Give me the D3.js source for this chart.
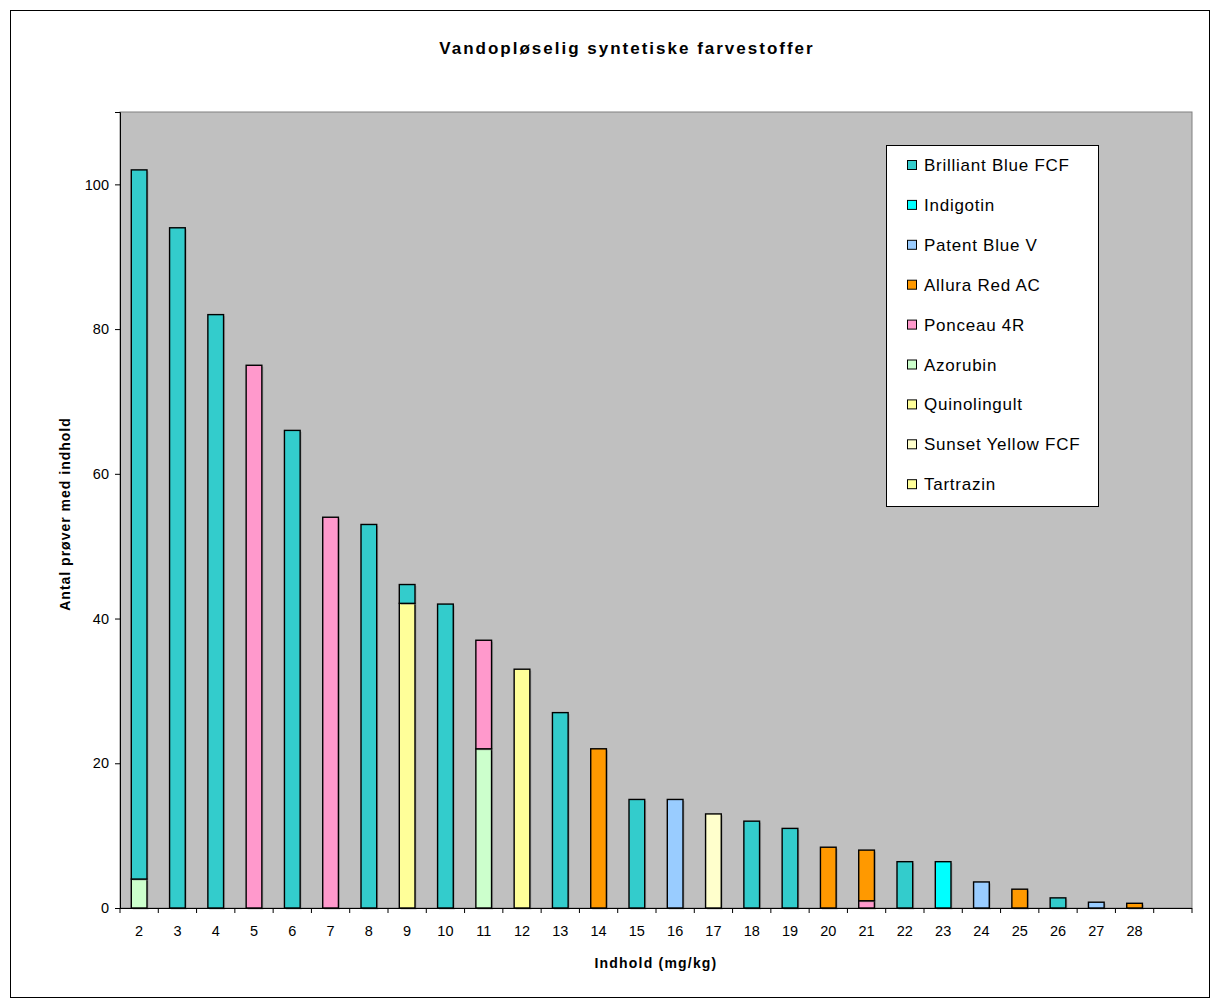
<!DOCTYPE html>
<html>
<head>
<meta charset="utf-8">
<script src="https://cdn.jsdelivr.net/npm/d3@7/dist/d3.min.js"></script>
<style>
  html, body { margin: 0; padding: 0; background: #fff; }
  svg { display: block; font-family: "Liberation Sans", Arial, sans-serif; }
</style>
</head>
<body>
<svg id="chart" width="1229" height="1007"></svg>
<script>
// ---- Data ----
const categories = ["2","3","4","5","6","7","8","9","10","11","12","13","14","15","16","17","18","19","20","21","22","23","24","25","26","27","28",""];
const seriesNames = ["Brilliant Blue FCF","Indigotin","Patent Blue V","Allura Red AC","Ponceau 4R","Azorubin","Quinolingult","Sunset Yellow FCF","Tartrazin"];
const seriesColors = ["#33CCCC","#00FFFF","#99CCFF","#FF9900","#FF99CC","#CCFFCC","#FFFF99","#FFFFCC","#FFFF99"];
//                           2   3   4   5   6   7   8   9    10  11  12  13  14  15  16  17  18  19  20   21  22   23   24   25   26   27   28   -
const brilliantBlue   = [98, 94, 82,  0, 66,  0, 53, 2.6, 42,  0,  0, 27,  0, 15,  0,  0, 12, 11,  0,   0, 6.4,  0,   0,   0, 1.4,  0,   0,   0];
const indigotin       = [ 0,  0,  0,  0,  0,  0,  0, 0,    0,  0,  0,  0,  0,  0,  0,  0,  0,  0,  0,   0, 0,  6.4,   0,   0,   0,   0,   0,   0];
const patentBlue      = [ 0,  0,  0,  0,  0,  0,  0, 0,    0,  0,  0,  0,  0,  0, 15,  0,  0,  0,  0,   0, 0,    0, 3.6,   0,   0, 0.8,   0,   0];
const alluraRed       = [ 0,  0,  0,  0,  0,  0,  0, 0,    0,  0,  0,  0, 22,  0,  0,  0,  0,  0, 8.4,  7, 0,    0,   0, 2.6,   0,   0, 0.65, 0];
const ponceau         = [ 0,  0,  0, 75,  0, 54,  0, 0,    0, 15,  0,  0,  0,  0,  0,  0,  0,  0,  0,   1, 0,    0,   0,   0,   0,   0,   0,   0];
const azorubin        = [ 4,  0,  0,  0,  0,  0,  0, 0,    0, 22,  0,  0,  0,  0,  0,  0,  0,  0,  0,   0, 0,    0,   0,   0,   0,   0,   0,   0];
const quinolingult    = [ 0,  0,  0,  0,  0,  0,  0, 42.1, 0,  0,  0,  0,  0,  0,  0,  0,  0,  0,  0,   0, 0,    0,   0,   0,   0,   0,   0,   0];
const sunsetYellow    = [ 0,  0,  0,  0,  0,  0,  0, 0,    0,  0,  0,  0,  0,  0,  0, 13,  0,  0,  0,   0, 0,    0,   0,   0,   0,   0,   0,   0];
const tartrazin       = [ 0,  0,  0,  0,  0,  0,  0, 0,    0,  0, 33,  0,  0,  0,  0,  0,  0,  0,  0,   0, 0,    0,   0,   0,   0,   0,   0,   0];
const yTicks = [0, 20, 40, 60, 80, 100];
const yMax = 110;

const seriesValues = [brilliantBlue, indigotin, patentBlue, alluraRed, ponceau, azorubin, quinolingult, sunsetYellow, tartrazin];

// ---- Layout ----
const svg = d3.select("#chart");
const plot = { left: 120, right: 1192, top: 112, bottom: 908 };

// outer border
svg.append("rect").attr("x", 10.5).attr("y", 10.5).attr("width", 1199).attr("height", 987)
  .attr("fill", "#fff").attr("stroke", "#000").attr("stroke-width", 1);

const x = d3.scaleBand().domain(categories).range([plot.left, plot.right]).padding(0);
const y = d3.scaleLinear().domain([0, yMax]).range([plot.bottom, plot.top]);

// plot area
svg.append("rect").attr("x", plot.left).attr("y", plot.top)
  .attr("width", plot.right - plot.left).attr("height", plot.bottom - plot.top)
  .attr("fill", "#C0C0C0").attr("stroke", "#808080").attr("stroke-width", 1);

// stacking: bottom-to-top is reverse of legend order
const table = categories.map((c, i) => {
  const row = { cat: c };
  seriesNames.forEach((s, k) => row[s] = seriesValues[k][i]);
  return row;
});
const stackKeys = seriesNames.slice().reverse();
const stacked = d3.stack().keys(stackKeys)(table);

const barW = x.bandwidth() * 0.41;
const g = svg.append("g");
stacked.forEach(layer => {
  const color = seriesColors[seriesNames.indexOf(layer.key)];
  layer.forEach((d, i) => {
    if (d[1] - d[0] <= 0) return;
    const cx = x(categories[i]) + x.bandwidth() / 2;
    // shadow
    g.append("rect")
      .attr("x", cx - barW / 2 + 1.5).attr("y", y(d[1]) + 1.5)
      .attr("width", barW).attr("height", y(d[0]) - y(d[1]))
      .attr("fill", "#7a7a7a").attr("opacity", 0.45);
    g.append("rect")
      .attr("x", cx - barW / 2).attr("y", y(d[1]))
      .attr("width", barW).attr("height", y(d[0]) - y(d[1]))
      .attr("fill", color).attr("stroke", "#000").attr("stroke-width", 1.4);
  });
});

// Y axis
const yAxis = d3.axisLeft(y).tickValues(yTicks).tickSize(5).tickPadding(6).tickFormat(d3.format("d"));
const ya = svg.append("g").attr("transform", `translate(${plot.left},0)`).call(yAxis);
ya.select(".domain").attr("stroke", "#000");
ya.selectAll(".tick line").attr("stroke", "#000");
ya.selectAll("text").attr("font-size", 14.5).attr("fill", "#000")
  .attr("font-family", "'Liberation Sans', Arial, sans-serif");

// X axis baseline
svg.append("line").attr("x1", plot.left).attr("x2", plot.right)
  .attr("y1", plot.bottom + 0.5).attr("y2", plot.bottom + 0.5).attr("stroke", "#000").attr("stroke-width", 1.2);
// ticks at band boundaries
const boundaries = categories.map(c => x(c)).concat([plot.right]);
svg.append("g").selectAll("line").data(boundaries).join("line")
  .attr("x1", d => d).attr("x2", d => d)
  .attr("y1", plot.bottom).attr("y2", plot.bottom + 5)
  .attr("stroke", "#000");
svg.append("g").selectAll("text").data(categories).join("text")
  .attr("x", d => x(d) + x.bandwidth() / 2)
  .attr("y", 936)
  .attr("text-anchor", "middle")
  .attr("font-size", 14.5)
  .text(d => d);

// Titles
svg.append("text").attr("x", 627).attr("y", 54).attr("text-anchor", "middle")
  .attr("font-size", 17).attr("font-weight", "bold").attr("letter-spacing", 2)
  .text("Vandopløselig syntetiske farvestoffer");
svg.append("text").attr("x", 656).attr("y", 968).attr("text-anchor", "middle")
  .attr("font-size", 14).attr("font-weight", "bold").attr("letter-spacing", 1.2)
  .text("Indhold (mg/kg)");
svg.append("text").attr("transform", "translate(70,514) rotate(-90)").attr("text-anchor", "middle")
  .attr("font-size", 14).attr("font-weight", "bold").attr("letter-spacing", 1)
  .text("Antal prøver med indhold");

// Legend
const lg = svg.append("g");
lg.append("rect").attr("x", 886.5).attr("y", 145.5).attr("width", 212).attr("height", 361)
  .attr("fill", "#fff").attr("stroke", "#000").attr("stroke-width", 1);
seriesNames.forEach((s, i) => {
  const cy = 165 + i * 39.9;
  lg.append("rect").attr("x", 907.5).attr("y", cy - 4.5).attr("width", 9).attr("height", 9)
    .attr("fill", seriesColors[i]).attr("stroke", "#000").attr("stroke-width", 1);
  lg.append("text").attr("x", 924).attr("y", cy + 6).attr("font-size", 17).attr("letter-spacing", 0.75).text(s);
});
</script>
</body>
</html>
